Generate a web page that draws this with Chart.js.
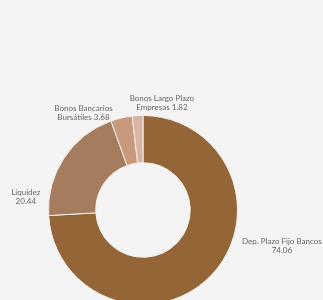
<!DOCTYPE html>
<html>
<head>
<meta charset="utf-8">
<script src="https://cdn.jsdelivr.net/npm/chart.js@4"></script>
<style>
  html, body { margin: 0; padding: 0; background: #f4f4f4; overflow: hidden; }
  #wrap { width: 323px; height: 320px; position: relative; }
</style>
</head>
<body>
<div id="wrap"><canvas id="chart"></canvas></div>
<script>
const labels = ['Dep. Plazo Fijo Bancos', 'Liquidez', 'Bonos Bancarios Bursátiles', 'Bonos Largo Plazo Empresas'];
const values = [74.06, 20.44, 3.68, 1.82];
const labelLines = [
    ['Dep. Plazo Fijo Bancos', '74.06'],
    ['Liquidez', '20.44'],
    ['Bonos Bancarios', 'Bursátiles 3.68'],
    ['Bonos Largo Plazo', 'Empresas 1.82']
];
const colors = ['#936537', '#a57c5d', '#c8997b', '#d8b4a5'];

// offsets of each label from the pie centre, in units of the outer radius
const labelSpots = [[1.47, 0.38], [-1.24, -0.14], [-0.63, -1.03], [0.2, -1.13]];

const outsideLabels = {
    id: 'outsideLabels',
    afterDatasetsDraw(chart) {
        const ctx = chart.ctx;
        const arc = chart.getDatasetMeta(0).data[0];
        const cx = arc.x, cy = arc.y, r = arc.outerRadius;
        ctx.save();
        ctx.font = '8px Lato';
        ctx.fillStyle = '#666';
        ctx.textAlign = 'center';
        ctx.textBaseline = 'middle';
        labelLines.forEach((lines, i) => {
            const x = cx + labelSpots[i][0] * r;
            const y = cy + labelSpots[i][1] * r;
            ctx.fillText(lines[0], x, y - 4.5);
            ctx.fillText(lines[1], x, y + 4.5);
        });
        ctx.restore();
    }
};

const ctx = document.getElementById('chart').getContext('2d');
new Chart(ctx, {
    type: 'doughnut',
    data: {
        labels: labels,
        datasets: [{
            data: values,
            backgroundColor: colors,
            borderColor: '#f4f0ec',
            borderWidth: 1
        }]
    },
    options: {
        responsive: true,
        maintainAspectRatio: false,
        animation: false,
        cutout: '50%',
        layout: { padding: { left: 48, right: 85, top: 115, bottom: 15 } },
        plugins: {
            legend: { display: false },
            tooltip: { enabled: false }
        }
    },
    plugins: [outsideLabels]
});
</script>
</body>
</html>
